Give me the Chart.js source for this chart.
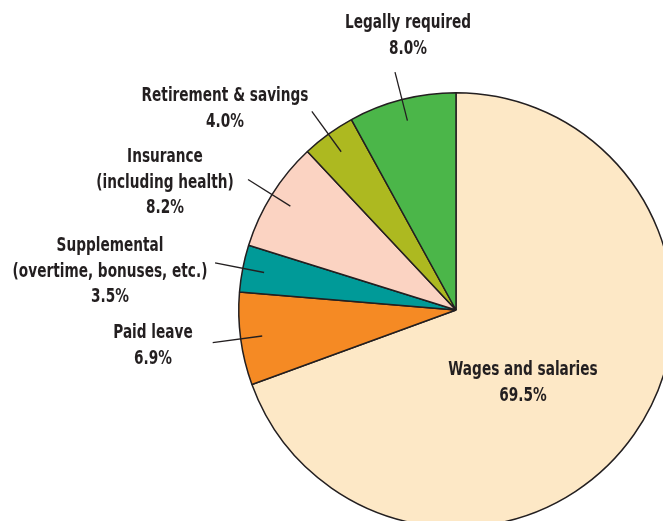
<!DOCTYPE html>
<html>
<head>
<meta charset="utf-8">
<script src="https://cdn.jsdelivr.net/npm/chart.js@4/dist/chart.umd.min.js"></script>
<style>
  html, body { margin: 0; padding: 0; background: #fff; overflow: hidden; }
  #wrap { width: 700px; height: 560px; }
</style>
</head>
<body>
<div id="wrap"><canvas id="pieChart" width="700" height="560"></canvas></div>
<script>
// categories and shares (%) in drawing order, clockwise from the top
const categories = [
  ['Wages and salaries'],
  ['Paid leave'],
  ['Supplemental', '(overtime, bonuses, etc.)'],
  ['Insurance', '(including health)'],
  ['Retirement & savings'],
  ['Legally required']
];
const shares = [69.5, 6.9, 3.5, 8.2, 4.0, 8.0];
const valueLabels = ['69.5%', '6.9%', '3.5%', '8.2%', '4.0%', '8.0%'];

const sliceColors = ['#FDE8C6', '#F58A24', '#009A98', '#FBD3C2', '#ADB920', '#4BB649'];

// where each label block sits (center x, first line y)
const labelSpots = [
  { x: 523, y: 370, leader: false },
  { x: 153, y: 333, leader: true },
  { x: 110, y: 246, leader: true },
  { x: 165, y: 157, leader: true },
  { x: 225, y: 96, leader: true },
  { x: 408, y: 23, leader: true }
];

const ink = '#231F20';
const fontFamily = '"DejaVu Sans Condensed", "DejaVu Sans", sans-serif';

const labelPlugin = {
  id: 'pieLabels',
  afterDraw(chart) {
    const ctx = chart.ctx;
    const arcs = chart.getDatasetMeta(0).data;
    ctx.save();
    ctx.fillStyle = ink;
    ctx.strokeStyle = ink;
    ctx.lineWidth = 1.3;
    ctx.textAlign = 'center';
    ctx.textBaseline = 'middle';
    ctx.font = 'bold 20px ' + fontFamily;
    arcs.forEach((arc, i) => {
      const spot = labelSpots[i];
      if (spot.leader) {
        const mid = (arc.startAngle + arc.endAngle) / 2;
        const r = arc.outerRadius;
        ctx.beginPath();
        ctx.moveTo(arc.x + Math.cos(mid) * r * 0.9, arc.y + Math.sin(mid) * r * 0.9);
        ctx.lineTo(arc.x + Math.cos(mid) * r * 1.13, arc.y + Math.sin(mid) * r * 1.13);
        ctx.stroke();
      }
      const lines = categories[i].concat([valueLabels[i]]);
      lines.forEach((t, k) => {
        // squeeze the text to look like the condensed face of the original
        ctx.save();
        ctx.translate(spot.x, spot.y + k * 25.5);
        ctx.scale(0.76, 1);
        ctx.fillText(t, 0, 0);
        ctx.restore();
      });
    });
    ctx.restore();
  }
};

new Chart(document.getElementById('pieChart'), {
  type: 'pie',
  data: {
    labels: categories.map(c => c.join(' ')),
    datasets: [{
      data: shares,
      backgroundColor: sliceColors,
      borderColor: ink,
      borderWidth: 1.5
    }]
  },
  options: {
    responsive: false,
    animation: false,
    layout: { padding: { left: 238, top: 92, right: 26, bottom: 32 } },
    plugins: {
      legend: { display: false },
      tooltip: { enabled: false }
    }
  },
  plugins: [labelPlugin]
});
</script>
</body>
</html>
